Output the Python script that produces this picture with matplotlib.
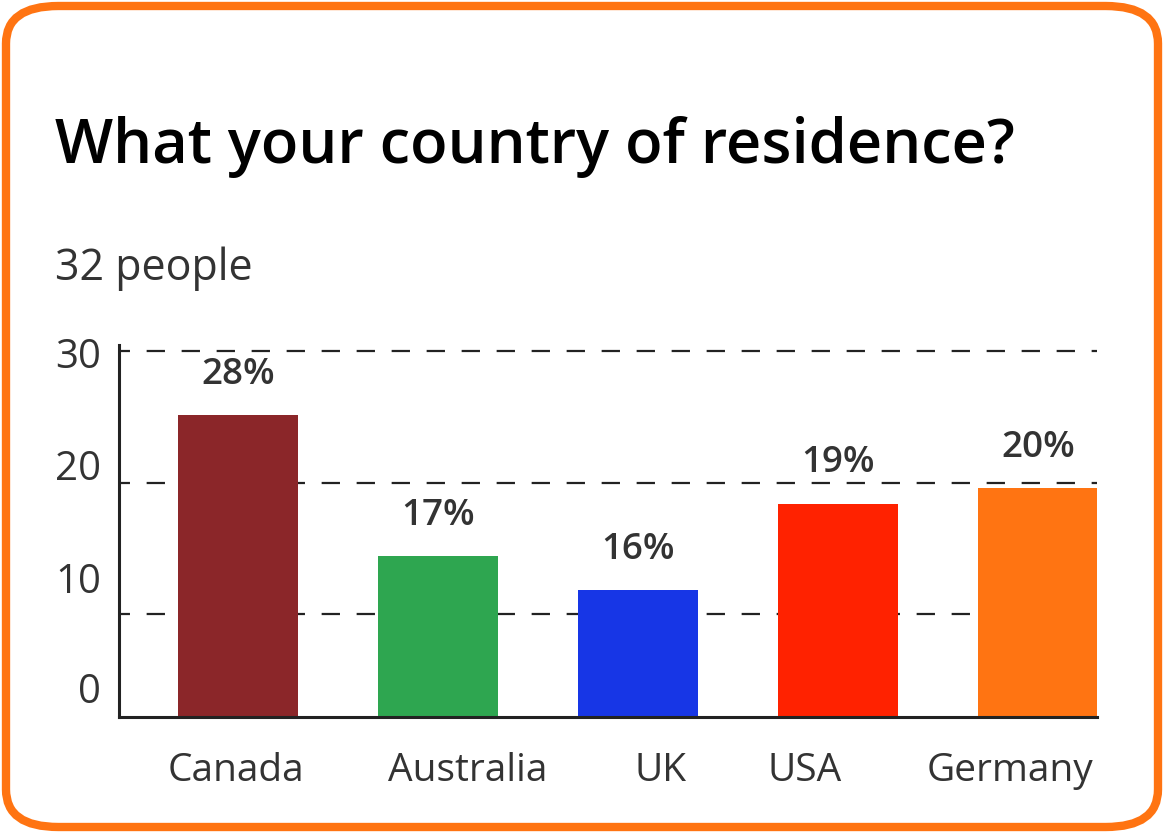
import matplotlib.pyplot as plt
from matplotlib.patches import FancyBboxPatch

plt.rcParams['font.family'] = ['Open Sans', 'DejaVu Sans']
plt.rcParams['lines.scale_dashes'] = False

countries = ["Canada", "Australia", "UK", "USA", "Germany"]
heights = [25.1, 14.4, 11.8, 18.4, 19.6]
pct_labels = ["28%", "17%", "16%", "19%", "20%"]
colors = ["#8B2629", "#2EA650", "#1736E6", "#FF2200", "#FF7412"]

# where the category names sit (they are not centred under the bars)
name_pos = [-0.01, 1.15, 2.11, 2.835, 3.86]

grid_vals = [10, 20, 30]
ytick_text = ["0", "10", "20", "30"]
ytick_y = [4.0, 12.4, 20.97, 29.47]

W, H = 1164, 833
fig = plt.figure(figsize=(W / 100, H / 100), dpi=100)
fig.patch.set_facecolor("white")

border = FancyBboxPatch((6 / W, 6 / H), (W - 12) / W, (H - 12) / H,
                        boxstyle="round,pad=0,rounding_size=0.045",
                        transform=fig.transFigure, fill=False,
                        edgecolor="#FF7412", linewidth=6)
fig.patches.append(border)

fig.text(55 / W, 1 - 163 / H, "What your country of residence?",
         fontsize=44.3, fontweight="semibold", color="black", va="baseline")
fig.text(55 / W, 1 - 280 / H, "32 people", fontsize=31, color="#333333",
         va="baseline")

ax = fig.add_axes([119 / W, 1 - 717 / H, (1097 - 119) / W, (717 - 345) / H])
ax.set_xlim(-0.595, 4.295)
ax.set_ylim(2.17, 30.46)

for g in grid_vals:
    ax.axhline(g, color="#222222", linewidth=1.6,
               linestyle=(5.3, (13.2, 12.0)), zorder=1)

x = range(len(countries))
bars = ax.bar(x, heights, width=0.6, color=colors, zorder=2)
for b, lab in zip(bars, pct_labels):
    ax.annotate(lab, (b.get_x() + b.get_width() / 2, b.get_height()),
                xytext=(0, 29), textcoords="offset points",
                ha="center", va="center", fontsize=26.5, fontweight="semibold",
                color="#333333")

ax.set_xticks(name_pos)
ax.set_xticklabels(countries, fontsize=28, color="#333333")
ax.tick_params(axis="x", length=0, pad=25)
ax.set_yticks([])
for t, yy in zip(ytick_text, ytick_y):
    ax.text(-0.685, yy, t, ha="right", va="center", fontsize=29,
            color="#333333")

for s in ["top", "right"]:
    ax.spines[s].set_visible(False)
for s in ["left", "bottom"]:
    ax.spines[s].set_color("#222222")
    ax.spines[s].set_linewidth(2.2)
    ax.spines[s].set_zorder(3)

fig.savefig("out.png", dpi=100)
